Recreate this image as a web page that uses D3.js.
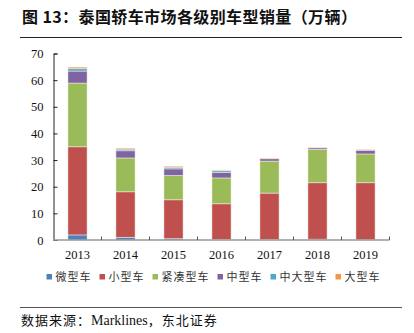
<!DOCTYPE html>
<html><head><meta charset="utf-8">
<script src="https://cdn.jsdelivr.net/npm/d3@7/dist/d3.min.js"></script>
<style>body{margin:0;background:#fff}svg{display:block}</style>
</head><body>
<svg id="c" width="414" height="333"></svg>
<script>
const years = ["2013","2014","2015","2016","2017","2018","2019"];
const seriesNames = ["微型车","小型车","紧凑型车","中型车","中大型车","大型车"];
const colors = ["#4F81BD","#C0504D","#9BBB59","#8064A2","#4BACC6","#F79646"];
const micro    = [1.9, 1.0, 0.5, 0.2, 0.2, 0.3, 0.1];
const small    = [33.1,17.1,14.6,13.4,17.4,21.2,21.4];
const compact  = [23.9,12.7, 9.1, 9.7,12.0,12.5,10.8];
const mid      = [4.5, 2.7, 2.5, 2.1, 0.9, 0.6, 1.4];
const midLarge = [0.9, 0.6, 0.6, 0.6, 0.1, 0.1, 0.1];
const large    = [0.6, 0.4, 0.4, 0.3, 0.2, 0.1, 0.2];
const yTicks = [0,10,20,30,40,50,60,70];
const title = "图 13：泰国轿车市场各级别车型销量（万辆）";
const source = "数据来源：Marklines，东北证券";

const seriesData = [micro, small, compact, mid, midLarge, large];
const rows = years.map((y,i)=>{const o={year:y}; seriesNames.forEach((s,j)=>o[s]=seriesData[j][i]); return o;});
const stacked = d3.stack().keys(seriesNames)(rows);

const svg = d3.select("#c");
svg.append("rect").attr("width",414).attr("height",333).attr("fill","#fff");

// title
svg.append("text").attr("x",22).attr("y",23)
  .attr("font-family","'Noto Sans CJK SC'").attr("font-weight","bold")
  .attr("font-size",16).attr("letter-spacing",0.4).attr("fill","#111")
  .text(title);
svg.append("line").attr("x1",20).attr("x2",402).attr("y1",37.5).attr("y2",37.5)
  .attr("stroke","#222").attr("stroke-width",1);

const x = d3.scaleBand().domain(years).range([53.5,389.5]).paddingInner(0.6).paddingOuter(0.3);
const xb = d3.scaleLinear().domain([0,years.length]).range([53.5,389.5]);
const y = d3.scaleLinear().domain([0,70]).range([240,53.5]);

// bars
const g = svg.append("g");
stacked.forEach((layer,j)=>{
  g.selectAll(null).data(layer).enter().append("rect")
    .attr("x",d=>x(d.data.year))
    .attr("width",x.bandwidth())
    .attr("y",d=>y(d[1]))
    .attr("height",d=>Math.max(0,y(d[0])-y(d[1])))
    .attr("fill",colors[j])
    .attr("stroke","rgba(255,255,255,0.55)").attr("stroke-width",0.8);
});

// y axis
const yAxis = d3.axisLeft(y).tickValues(yTicks).tickSize(-4).tickPadding(10);
const ya = svg.append("g").attr("transform","translate(53.5,0)").call(yAxis);
ya.select(".domain").attr("stroke","#222");
ya.selectAll(".tick line").attr("stroke","#222");
ya.selectAll(".tick text").attr("font-family","'Liberation Serif'").attr("font-size",12.5).attr("fill","#111");

// x axis
const xa = svg.append("g").attr("transform","translate(0,240)");
xa.append("line").attr("x1",53).attr("x2",389.5).attr("y1",0).attr("y2",0).attr("stroke","#999").attr("stroke-width",1.6);
xa.selectAll(".xt").data(d3.range(1,years.length+1)).enter().append("line")
  .attr("x1",d=>xb(d)).attr("x2",d=>xb(d)).attr("y1",0).attr("y2",-3.5).attr("stroke","#555");
xa.selectAll(".xl").data(years).enter().append("text")
  .attr("x",d=>x(d)+x.bandwidth()/2).attr("y",18.5).attr("text-anchor","middle")
  .attr("font-family","'Liberation Serif'").attr("font-size",12.5).attr("fill","#111").text(d=>d);

// legend
const legend = svg.append("g").attr("transform","translate(0,277)");
let lx = 46.5;
seriesNames.forEach((s,j)=>{
  legend.append("rect").attr("x",lx).attr("y",-3).attr("width",5.5).attr("height",5.5).attr("fill",colors[j]);
  const t = legend.append("text").attr("x",lx+9).attr("y",4).attr("font-family","'Noto Sans CJK SC'")
    .attr("font-size",11).attr("letter-spacing",1).attr("fill","#333").text(s);
  const w = t.node().getComputedTextLength();
  lx += 9 + w + 8;
});

// footer
svg.append("line").attr("x1",20).attr("x2",402).attr("y1",307.5).attr("y2",307.5).attr("stroke","#555").attr("stroke-width",1);
const ft = svg.append("text").attr("x",21).attr("y",325).attr("font-size",13).attr("fill","#111");
ft.append("tspan").attr("font-family","'Noto Sans CJK SC'").attr("letter-spacing",1).text("数据来源：");
ft.append("tspan").attr("font-family","'Liberation Serif'").attr("font-size",14).text("Marklines");
ft.append("tspan").attr("font-family","'Noto Sans CJK SC'").attr("letter-spacing",1).text("，东北证券");
</script>
</body></html>
